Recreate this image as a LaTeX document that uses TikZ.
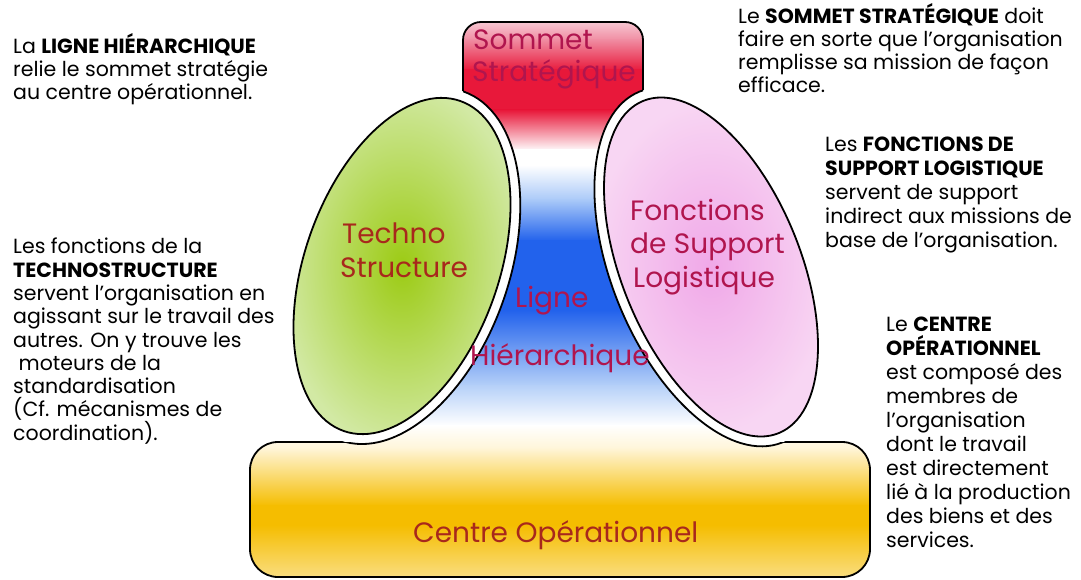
\documentclass[tikz,border=0pt]{standalone}
\usepackage{fontspec}
\setmainfont{Poppins}
\definecolor{sTop}{HTML}{F8D3DC}
\definecolor{sMid}{HTML}{F08AA0}
\definecolor{sRed}{HTML}{E8183A}
\definecolor{bLight}{HTML}{A8C8F8}
\definecolor{bDeep}{HTML}{2262EC}
\definecolor{bFade}{HTML}{B5D0F8}
\definecolor{yPale}{HTML}{FFF5D8}
\definecolor{yDeep}{HTML}{F5BD00}
\definecolor{yLow}{HTML}{FADF86}
\definecolor{gInner}{HTML}{9CCB14}
\definecolor{gOuter}{HTML}{D2E9A4}
\definecolor{pInner}{HTML}{F0A8E8}
\definecolor{pOuter}{HTML}{F8D6F3}
\definecolor{crimson}{HTML}{B0154E}
\definecolor{rust}{HTML}{A8281C}
\newcommand\colorband[4]{\shade[top color=#3, bottom color=#4] (240,#1) rectangle (880,#2);}
\def\MainOutline{(250,470) .. controls (250,454.5) and (262.5,442) .. (278,442) -- (362,442) -- (402,266) -- (463,100) -- (463,40) .. controls (463,30) and (471,22) .. (481,22) -- (625,22) .. controls (635,22) and (643,30) .. (643,40) -- (643,100) -- (711,267) -- (760,442) -- (842,442) .. controls (857.5,442) and (870,454.5) .. (870,470) -- (870,549) .. controls (870,564.5) and (857.5,577) .. (842,577) -- (278,577) .. controls (262.5,577) and (250,564.5) .. (250,549) -- cycle}
\begin{document}
\begin{tikzpicture}[x=1pt,y=-1pt,
  every node/.style={inner sep=0pt},
  shapelabel/.style={anchor=base west, font=\fontsize{28}{32}\selectfont},
  note/.style={anchor=north west, align=left, text=black, font=\fontsize{20.5}{23}\selectfont},
  edge/.style={draw=black, line width=1.8pt}]
\useasboundingbox (0,0) rectangle (1081,580);
\fill[white] (0,0) rectangle (1081,580);
% gradient body: sommet, ligne hierarchique, centre operationnel
\begin{scope}
\clip \MainOutline;
\colorband{18}{41}{sTop}{sMid}
\colorband{40}{71}{sMid}{sRed}
\colorband{70}{111}{sRed}{sRed}
\colorband{110}{151}{sRed}{white}
\colorband{150}{166}{white}{white}
\colorband{165}{201}{white}{bLight}
\colorband{200}{241}{bLight}{bDeep}
\colorband{240}{311}{bDeep}{bDeep}
\colorband{310}{386}{bDeep}{bFade}
\colorband{385}{426}{bFade}{white}
\colorband{425}{449}{white}{yPale}
\colorband{448}{506}{yPale}{yDeep}
\colorband{505}{526}{yDeep}{yDeep}
\colorband{525}{580}{yDeep}{yLow}
\end{scope}
\draw[edge] \MainOutline;
% white halos round the ellipses
\fill[white, rotate around={70.5:(402,266)}] (402,266) ellipse [x radius=185, y radius=107];
\fill[white, rotate around={112.2:(711,267)}] (711,267) ellipse [x radius=189.4, y radius=99.4];
\begin{scope}
\clip \MainOutline;
\draw[edge, rotate around={70.5:(402,266)}] (402,266) ellipse [x radius=185, y radius=107];
\draw[edge, rotate around={112.2:(711,267)}] (711,267) ellipse [x radius=189.4, y radius=99.4];
\end{scope}
% ellipses
\shadedraw[edge, inner color=gInner, outer color=gOuter, rotate around={70.5:(402,266)}] (402,266) ellipse [x radius=175, y radius=97];
\shadedraw[edge, inner color=pInner, outer color=pOuter, rotate around={112.2:(711,267)}] (711,267) ellipse [x radius=179.4, y radius=89.4];
% labels in shapes
\node[shapelabel, text=crimson] (som1) at (473,50) {Sommet};
\node[shapelabel, text=crimson] (som2) at (472,82) {Stratégique};
\node[shapelabel, text=rust] (tec1) at (342,243) {Techno};
\node[shapelabel, text=rust] (tec2) at (340,277) {Structure};
\node[shapelabel, text=crimson] (lig1) at (515,307) {Ligne};
\node[shapelabel, text=crimson] (lig2) at (470,365) {Hiérarchique};
\node[shapelabel, text=crimson] (fon1) at (630,220) {Fonctions};
\node[shapelabel, text=crimson] (fon2) at (630,253) {de Support};
\node[shapelabel, text=crimson] (fon3) at (633,287) {Logistique};
\node[shapelabel, text=rust] (cen) at (413,542) {Centre Opérationnel};
% notes
\node[note] (nLigne) at (13,33) {La \textbf{LIGNE HIÉRARCHIQUE}\\relie le sommet stratégie\\au centre opérationnel.};
\node[note, font=\fontsize{20.5}{23.3}\selectfont] (nTech) at (13,238) {Les fonctions de la\\\textbf{TECHNOSTRUCTURE}\\servent l'organisation en\\agissant sur le travail des\\autres. On y trouve les\\\ moteurs de la\\standardisation\\(Cf. mécanismes de\\coordination).};
\node[note] (nSom) at (738,3) {Le \textbf{SOMMET STRATÉGIQUE} doit\\faire en sorte que l'organisation\\remplisse sa mission de façon\\efficace.};
\node[note, font=\fontsize{20.5}{24}\selectfont] (nFon) at (825,137) {Les \textbf{FONCTIONS DE}\\\textbf{SUPPORT LOGISTIQUE}\\servent de support\\indirect aux missions de\\base de l'organisation.};
\node[note, font=\fontsize{20.5}{24}\selectfont] (nCen) at (886,317) {Le \textbf{CENTRE}\\\textbf{OPÉRATIONNEL}\\est composé des\\membres de\\l'organisation\\dont le travail\\est directement\\lié à la production\\des biens et des\\services.};
\end{tikzpicture}
\end{document}
